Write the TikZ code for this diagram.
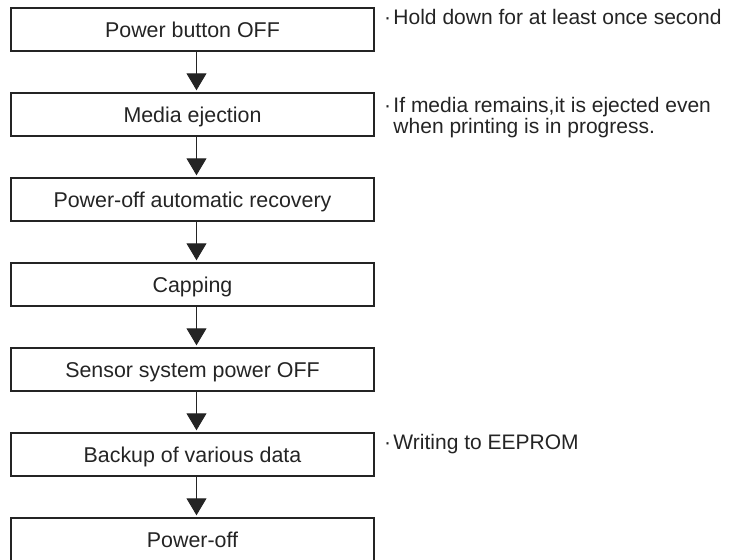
\documentclass[tikz,border=0pt]{standalone}
\usepackage{fontspec}
\setmainfont{Liberation Sans}
\usetikzlibrary{arrows.meta}
\usetikzlibrary{positioning}
\definecolor{ink}{gray}{0.14}

\begin{document}
\begin{tikzpicture}[>={Triangle[width=10pt,length=8.5pt]}, node distance=42.5pt,
		stepbox/.style={draw=ink, line width=0.7pt, minimum width=181.5pt, minimum height=21.5pt,
			inner sep=0pt, text height=7.6pt, text depth=0pt, text=ink,
			font=\fontsize{10.7}{10.3}\selectfont},
		note/.style={anchor=base west, inner sep=0pt, text=ink, font=\fontsize{10.5}{10.3}\selectfont},
		flow/.style={->, draw=ink, line width=0.5pt, shorten >=1pt}]
		\useasboundingbox (0,0) rectangle (365pt,-280pt);
		\node[stepbox] (off) at (96.25pt,-14.75pt) {Power button OFF};
		\node[stepbox] (eject) [below of=off] {Media ejection};
		\node[stepbox] (recov) [below of=eject] {Power-off automatic recovery};
		\node[stepbox] (cap) [below of=recov] {Capping};
		\node[stepbox] (sensor) [below of=cap] {Sensor system power OFF};
		\node[stepbox] (backup) [below of=sensor] {Backup of various data};
		\node[stepbox] (poff) [below of=backup] {Power-off};
		\draw[flow] ([xshift=2pt]off.south) -- ([xshift=2pt]eject.north);
		\draw[flow] ([xshift=2pt]eject.south) -- ([xshift=2pt]recov.north);
		\draw[flow] ([xshift=2pt]recov.south) -- ([xshift=2pt]cap.north);
		\draw[flow] ([xshift=2pt]cap.south) -- ([xshift=2pt]sensor.north);
		\draw[flow] ([xshift=2pt]sensor.south) -- ([xshift=2pt]backup.north);
		\draw[flow] ([xshift=2pt]backup.south) -- ([xshift=2pt]poff.north);
		% side notes
		\node[note] (holdnote) at ([xshift=4.5pt, yshift=-8.5pt]off.north east) {·\kern1.2pt Hold down for at least once second};
		\node[note] (ejectnote) at ([xshift=4.5pt, yshift=-10pt]eject.north east)
			{·\kern1.2pt\begin{tabular}[t]{@{}l@{}}If media remains,it is ejected even\\when printing is in progress.\end{tabular}};
		\node[note] (eepromnote) at ([xshift=4.5pt, yshift=-8.5pt]backup.north east) {·\kern1.2pt Writing to EEPROM};
	\end{tikzpicture}
\end{document}
